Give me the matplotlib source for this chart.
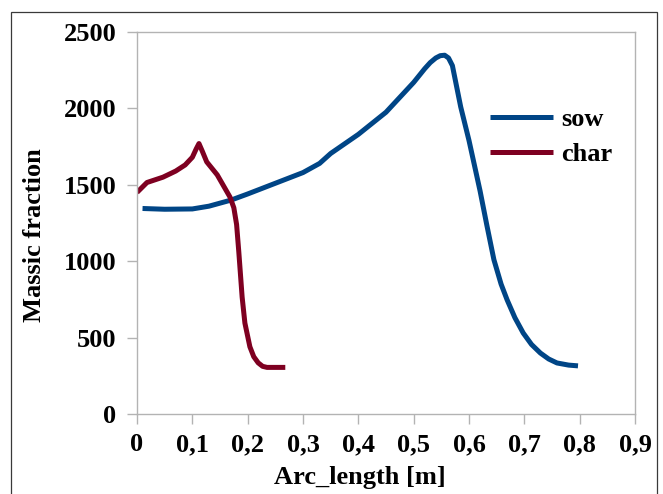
import matplotlib
matplotlib.use("Agg")
import matplotlib.pyplot as plt
from matplotlib.patches import Rectangle
from matplotlib.ticker import FuncFormatter, MultipleLocator

plt.rcParams.update({
    "font.family": ["Liberation Serif", "DejaVu Serif"],
    "font.weight": "bold",
})

# values
sow_x = [0.01, 0.05, 0.10, 0.13, 0.17, 0.20, 0.25, 0.30, 0.33, 0.35, 0.40, 0.45, 0.50,
         0.52, 0.53, 0.54, 0.548, 0.556, 0.563, 0.57, 0.585, 0.60, 0.62, 0.632, 0.645,
         0.658, 0.669, 0.683, 0.698, 0.713, 0.729, 0.744, 0.759, 0.78, 0.797]
sow_y = [1345, 1340, 1342, 1360, 1400, 1440, 1510, 1580, 1640, 1705, 1830, 1975, 2170,
         2260, 2300, 2330, 2345, 2348, 2330, 2280, 2010, 1790, 1460, 1240, 1010,
         850, 746, 630, 530, 455, 399, 360, 334, 320, 315]

char_x = [0.0, 0.018, 0.047, 0.07, 0.087, 0.10, 0.107, 0.112, 0.118, 0.126, 0.145, 0.168,
          0.175, 0.18, 0.184, 0.19, 0.195, 0.204, 0.211, 0.219, 0.227, 0.235, 0.268]
char_y = [1450, 1515, 1550, 1590, 1630, 1680, 1735, 1770, 1720, 1650, 1565, 1420,
          1350, 1240, 1060, 765, 595, 440, 375, 335, 312, 305, 305]

W, H = 663, 494
fig = plt.figure(figsize=(W / 100, H / 100), dpi=100)
ax = fig.add_axes([137 / W, 1 - 414 / H, (635 - 137) / W, (414 - 32) / H])

ax.plot(sow_x, sow_y, color="#004586", lw=3.6, solid_joinstyle="round",
        solid_capstyle="butt", label="sow")
ax.plot(char_x, char_y, color="#7e0021", lw=3.6, solid_joinstyle="round",
        solid_capstyle="butt", label="char")

ax.set_xlim(0, 0.9)
ax.set_ylim(0, 2500)
ax.xaxis.set_major_locator(MultipleLocator(0.1))
ax.yaxis.set_major_locator(MultipleLocator(500))
ax.xaxis.set_major_formatter(FuncFormatter(lambda v, p: f"{v:.1f}".replace(".", ",") if abs(v) > 1e-9 else "0"))

for s in ax.spines.values():
    s.set_color("#b3b3b3")
    s.set_linewidth(1.0)
ax.tick_params(axis="both", direction="out", color="#b3b3b3", width=1.0, length=7)
ax.tick_params(axis="x", labelsize=19, pad=7)
ax.tick_params(axis="y", labelsize=19, pad=8)

ax.set_xlabel("Arc_length [m]", fontsize=19, fontweight="bold")
ax.xaxis.set_label_coords((360 - 137) / (635 - 137), -(477 - 414) / (414 - 32))
ax.xaxis.label.set_verticalalignment("center")
ax.set_ylabel("Massic fraction", fontsize=19, fontweight="bold")
ax.yaxis.set_label_coords(-(137 - 35) / (635 - 137), (414 - 235) / (414 - 32))
ax.yaxis.label.set_verticalalignment("center")

ax.legend(loc="center left", bbox_to_anchor=(490 / W, 1 - 137 / H),
          bbox_transform=fig.transFigure, frameon=False, fontsize=19,
          handlelength=2.4, handletextpad=0.3, labelspacing=0.45,
          borderpad=0, borderaxespad=0)

fig.patches.append(Rectangle((11 / W, -0.02), (657 - 11) / W, (494 - 12) / H + 0.02,
                             transform=fig.transFigure, fill=False,
                             edgecolor="#3a3a3a", linewidth=0.9))

fig.savefig("out.png", dpi=100)
